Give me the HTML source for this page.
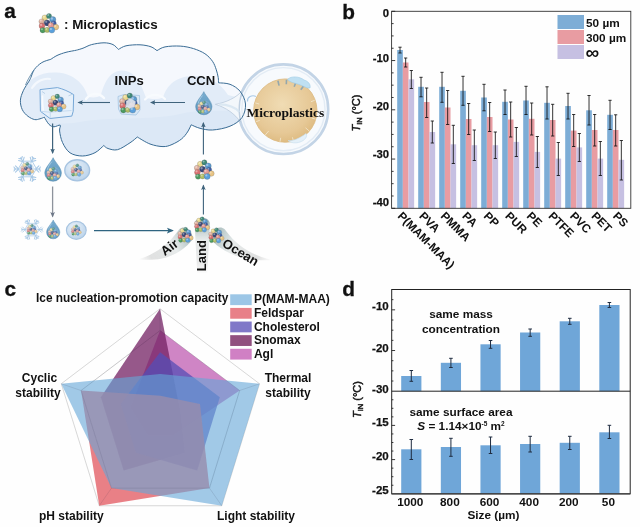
<!DOCTYPE html>
<html><head><meta charset="utf-8"><title>Figure</title>
<style>html,body{margin:0;padding:0;background:#fff;}svg{display:block;filter:blur(0.35px)}text{font-family:"Liberation Sans",sans-serif;font-weight:bold;fill:#111}.serif{font-family:"Liberation Serif",serif}</style></head><body>
<svg width="640" height="527" viewBox="0 0 640 527">
<rect width="640" height="527" fill="#fefefe"/>
<g opacity="0.999">
<defs>
<g id="mp"><circle cx="-4" cy="-5.9" r="2.8" fill="#ead88e" stroke="#4c4a44" stroke-opacity="0.5" stroke-width="0.4"/><circle cx="-4.84" cy="-6.88" r="1.06" fill="#fff" fill-opacity="0.4"/><circle cx="0.2" cy="-7.6" r="2.6" fill="#3f8a78" stroke="#4c4a44" stroke-opacity="0.5" stroke-width="0.4"/><circle cx="-0.58" cy="-8.51" r="0.99" fill="#fff" fill-opacity="0.4"/><circle cx="4" cy="-4" r="3.1" fill="#5a9ad0" stroke="#4c4a44" stroke-opacity="0.5" stroke-width="0.4"/><circle cx="3.07" cy="-5.08" r="1.18" fill="#fff" fill-opacity="0.4"/><circle cx="-7.3" cy="-2.1" r="2.6" fill="#e2b4a2" stroke="#4c4a44" stroke-opacity="0.5" stroke-width="0.4"/><circle cx="-8.08" cy="-3.01" r="0.99" fill="#fff" fill-opacity="0.4"/><circle cx="4.9" cy="-0.2" r="2.6" fill="#3f5ea6" stroke="#4c4a44" stroke-opacity="0.5" stroke-width="0.4"/><circle cx="4.12" cy="-1.11" r="0.99" fill="#fff" fill-opacity="0.4"/><circle cx="-1.7" cy="-0.7" r="3.0" fill="#3a4878" stroke="#4c4a44" stroke-opacity="0.5" stroke-width="0.4"/><circle cx="-2.60" cy="-1.75" r="1.14" fill="#fff" fill-opacity="0.4"/><circle cx="-6.8" cy="2.3" r="2.9" fill="#d97272" stroke="#4c4a44" stroke-opacity="0.5" stroke-width="0.4"/><circle cx="-7.67" cy="1.28" r="1.10" fill="#fff" fill-opacity="0.4"/><circle cx="7.2" cy="3.5" r="2.8" fill="#e8c484" stroke="#4c4a44" stroke-opacity="0.5" stroke-width="0.4"/><circle cx="6.36" cy="2.52" r="1.06" fill="#fff" fill-opacity="0.4"/><circle cx="2.1" cy="1.8" r="2.8" fill="#e39a94" stroke="#4c4a44" stroke-opacity="0.5" stroke-width="0.4"/><circle cx="1.26" cy="0.82" r="1.06" fill="#fff" fill-opacity="0.4"/><circle cx="-6.1" cy="6.6" r="2.7" fill="#4a9a60" stroke="#4c4a44" stroke-opacity="0.5" stroke-width="0.4"/><circle cx="-6.91" cy="5.65" r="1.03" fill="#fff" fill-opacity="0.4"/><circle cx="-1.7" cy="6.3" r="2.6" fill="#b0bd66" stroke="#4c4a44" stroke-opacity="0.5" stroke-width="0.4"/><circle cx="-2.48" cy="5.39" r="0.99" fill="#fff" fill-opacity="0.4"/><circle cx="3" cy="6.5" r="3.0" fill="#5aa0dc" stroke="#4c4a44" stroke-opacity="0.5" stroke-width="0.4"/><circle cx="2.10" cy="5.45" r="1.14" fill="#fff" fill-opacity="0.4"/></g>
<g id="mpp"><use href="#mp"/><circle r="10.5" fill="#dfeaf4" fill-opacity="0.18"/></g>
<linearGradient id="dropg" x1="0" y1="0" x2="0" y2="1"><stop offset="0" stop-color="#79add0"/><stop offset="1" stop-color="#5a95bc"/></linearGradient>
<g id="drop"><path d="M0 -11.8C2 -7.2 8.3 -1.8 8.3 3.6A8.3 8.2 0 0 1 -8.3 3.6C-8.3 -1.8 -2 -7.2 0 -11.8Z" fill="url(#dropg)" stroke="#4d86ad" stroke-width="0.5"/><path d="M-5.8 0.3C-5.2 -2.6 -3.2 -5.4 -1.4 -7.8" stroke="#cfe6f5" stroke-width="0.9" fill="none" stroke-opacity="0.6"/><use href="#mpp" transform="translate(0.2,4.3) scale(0.66)"/></g>
<radialGradient id="bubg" cx="0.4" cy="0.35" r="0.7"><stop offset="0" stop-color="#eaf2fa"/><stop offset="1" stop-color="#b9d2ea"/></radialGradient>
<g id="bub"><ellipse rx="12.4" ry="10.6" fill="url(#bubg)" stroke="#a7c4e1" stroke-width="1.4"/><use href="#mpp" transform="scale(0.64)"/></g>
<g id="snow" stroke="#a9c9e6" fill="none" stroke-width="1.1" stroke-linecap="round"><g transform="rotate(30)"><path d="M0 0V-13M0 -8.5l-3.2 -3.2M0 -8.5l3.2 -3.2M0 -11.5l-2 -1.8M0 -11.5l2 -1.8"/></g><g transform="rotate(90)"><path d="M0 0V-13M0 -8.5l-3.2 -3.2M0 -8.5l3.2 -3.2M0 -11.5l-2 -1.8M0 -11.5l2 -1.8"/></g><g transform="rotate(150)"><path d="M0 0V-13M0 -8.5l-3.2 -3.2M0 -8.5l3.2 -3.2M0 -11.5l-2 -1.8M0 -11.5l2 -1.8"/></g><g transform="rotate(210)"><path d="M0 0V-13M0 -8.5l-3.2 -3.2M0 -8.5l3.2 -3.2M0 -11.5l-2 -1.8M0 -11.5l2 -1.8"/></g><g transform="rotate(270)"><path d="M0 0V-13M0 -8.5l-3.2 -3.2M0 -8.5l3.2 -3.2M0 -11.5l-2 -1.8M0 -11.5l2 -1.8"/></g><g transform="rotate(330)"><path d="M0 0V-13M0 -8.5l-3.2 -3.2M0 -8.5l3.2 -3.2M0 -11.5l-2 -1.8M0 -11.5l2 -1.8"/></g><path d="M9 0L4.5 7.8L-4.5 7.8L-9 0L-4.5 -7.8L4.5 -7.8Z" stroke-width="0.9"/><circle r="7" fill="#d9e8f6" stroke="none"/></g>
<g id="snowmp"><use href="#snow"/><use href="#mpp" transform="scale(0.66)"/></g>
<radialGradient id="tang" cx="0.45" cy="0.4" r="0.65"><stop offset="0" stop-color="#f0dcb4"/><stop offset="0.7" stop-color="#e6c896"/><stop offset="1" stop-color="#dcb87c"/></radialGradient>
<linearGradient id="airg" gradientUnits="userSpaceOnUse" x1="190" y1="232" x2="138" y2="260"><stop offset="0" stop-color="#93acad" stop-opacity="0.85"/><stop offset="0.35" stop-color="#e0e5e5" stop-opacity="0.75"/><stop offset="0.78" stop-color="#c2c4c4" stop-opacity="0.5"/><stop offset="1" stop-color="#c8c8c8" stop-opacity="0"/></linearGradient>
<linearGradient id="landg" gradientUnits="userSpaceOnUse" x1="202" y1="222" x2="202" y2="274"><stop offset="0" stop-color="#93acad" stop-opacity="0.85"/><stop offset="0.35" stop-color="#e0e5e5" stop-opacity="0.75"/><stop offset="0.75" stop-color="#d0d2d2" stop-opacity="0.5"/><stop offset="1" stop-color="#c8c8c8" stop-opacity="0"/></linearGradient>
<linearGradient id="oceang" gradientUnits="userSpaceOnUse" x1="213" y1="232" x2="272" y2="261"><stop offset="0" stop-color="#93acad" stop-opacity="0.85"/><stop offset="0.35" stop-color="#e0e5e5" stop-opacity="0.75"/><stop offset="0.78" stop-color="#c2c4c4" stop-opacity="0.5"/><stop offset="1" stop-color="#c8c8c8" stop-opacity="0"/></linearGradient>
<marker id="ah" viewBox="0 0 10 10" refX="8" refY="5" markerWidth="5.5" markerHeight="5.5" orient="auto-start-reverse" markerUnits="userSpaceOnUse"><path d="M0 0.8L10 5L0 9.2L2.2 5Z" fill="#3f637c"/></marker>
<marker id="ahg" viewBox="0 0 10 10" refX="8" refY="5" markerWidth="5.5" markerHeight="5.5" orient="auto-start-reverse" markerUnits="userSpaceOnUse"><path d="M0 0.8L10 5L0 9.2L2.2 5Z" fill="#6c7686"/></marker>
<marker id="ahb" viewBox="0 0 10 10" refX="8" refY="5" markerWidth="7" markerHeight="7" orient="auto-start-reverse" markerUnits="userSpaceOnUse"><path d="M0 0.8L10 5L0 9.2L2.2 5Z" fill="#2f6480"/></marker>
</defs>
<g id="panela">
<text x="4.2" y="18.4" font-size="20.8" stroke="#111" stroke-width="0.3">a</text>
<clipPath id="cloudclip"><path d="M30.9 77.4C31.5 76.1 32.6 71.9 34.4 69.4C36.2 66.9 39.1 64.3 41.8 62.6C44.5 60.9 49.3 59.8 50.8 59.3C51.8 58.7 54.5 56.7 57.0 55.5C59.5 54.3 62.8 53.2 66.0 52.3C69.2 51.4 74.7 50.6 76.4 50.2C77.5 49.9 80.5 49.1 83.0 48.2C85.5 47.3 88.1 45.5 91.6 44.6C95.1 43.7 100.4 42.8 104.0 42.8C107.6 42.8 110.6 43.5 113.0 44.6C115.4 45.7 117.5 48.6 118.4 49.4C119.7 48.8 122.4 46.6 126.0 45.8C129.6 45.0 135.8 44.6 140.0 44.8C144.2 45.0 148.2 45.8 151.0 46.8C153.8 47.8 156.0 50.0 157.0 50.6C158.3 50.0 161.1 47.6 165.0 46.9C168.9 46.1 175.4 45.8 180.2 46.1C184.9 46.4 189.4 47.3 193.5 48.6C197.6 49.9 201.7 51.6 204.9 53.7C208.1 55.8 210.6 58.6 212.5 61.3C214.4 64.0 215.4 67.1 216.3 69.8C217.2 72.5 217.8 75.2 218.2 77.4C218.6 79.6 218.4 81.9 218.5 82.8C220.4 83.0 226.4 82.9 230.0 84.3C233.6 85.7 237.4 88.0 240.0 91.2C242.6 94.5 245.2 99.6 245.5 104.0C245.8 108.4 244.6 113.8 242.0 117.5C239.4 121.2 234.9 124.2 230.0 126.2C225.1 128.3 217.5 129.7 212.5 130.0C207.5 130.3 203.6 129.2 200.0 128.3C196.4 127.4 192.7 125.4 191.2 124.8C190.6 126.0 189.1 129.6 187.5 132.0C185.9 134.4 184.1 136.9 181.5 139.0C178.9 141.1 175.1 143.2 172.0 144.5C168.9 145.8 166.7 146.7 163.0 146.6C159.3 146.5 154.3 145.6 150.0 144.0C145.7 142.4 139.4 138.2 137.3 137.0C136.1 138.0 133.3 140.7 130.0 142.8C126.7 144.9 121.2 148.8 117.5 149.7C113.8 150.6 110.3 149.2 108.0 148.5C105.7 147.8 104.5 146.0 103.8 145.5C102.3 146.7 98.5 150.9 95.0 152.7C91.5 154.4 86.7 156.0 82.5 156.0C78.3 156.0 73.3 155.1 70.0 152.8C66.7 150.6 64.2 146.1 62.5 142.5C60.8 138.9 60.0 133.9 59.6 131.0C59.2 128.1 61.1 125.9 60.2 125.2C59.3 124.5 55.9 126.9 54.0 126.8C52.1 126.7 50.6 126.0 49.0 124.4C47.4 122.8 45.1 118.4 44.3 117.2L44.3 117.2C43.6 117.5 41.6 118.4 40.0 118.8C38.4 119.2 36.7 120.0 34.7 119.6C32.7 119.2 30.1 117.9 28.0 116.3C25.9 114.7 23.6 112.4 22.3 109.7C21.0 107.0 20.2 103.4 20.4 100.2C20.6 97.0 21.9 93.9 23.3 90.7C24.7 87.5 27.7 83.4 29.0 81.2C30.3 79.0 30.6 78.0 30.9 77.4Z"/></clipPath>
<path d="M30.9 77.4C31.5 76.1 32.6 71.9 34.4 69.4C36.2 66.9 39.1 64.3 41.8 62.6C44.5 60.9 49.3 59.8 50.8 59.3C51.8 58.7 54.5 56.7 57.0 55.5C59.5 54.3 62.8 53.2 66.0 52.3C69.2 51.4 74.7 50.6 76.4 50.2C77.5 49.9 80.5 49.1 83.0 48.2C85.5 47.3 88.1 45.5 91.6 44.6C95.1 43.7 100.4 42.8 104.0 42.8C107.6 42.8 110.6 43.5 113.0 44.6C115.4 45.7 117.5 48.6 118.4 49.4C119.7 48.8 122.4 46.6 126.0 45.8C129.6 45.0 135.8 44.6 140.0 44.8C144.2 45.0 148.2 45.8 151.0 46.8C153.8 47.8 156.0 50.0 157.0 50.6C158.3 50.0 161.1 47.6 165.0 46.9C168.9 46.1 175.4 45.8 180.2 46.1C184.9 46.4 189.4 47.3 193.5 48.6C197.6 49.9 201.7 51.6 204.9 53.7C208.1 55.8 210.6 58.6 212.5 61.3C214.4 64.0 215.4 67.1 216.3 69.8C217.2 72.5 217.8 75.2 218.2 77.4C218.6 79.6 218.4 81.9 218.5 82.8C220.4 83.0 226.4 82.9 230.0 84.3C233.6 85.7 237.4 88.0 240.0 91.2C242.6 94.5 245.2 99.6 245.5 104.0C245.8 108.4 244.6 113.8 242.0 117.5C239.4 121.2 234.9 124.2 230.0 126.2C225.1 128.3 217.5 129.7 212.5 130.0C207.5 130.3 203.6 129.2 200.0 128.3C196.4 127.4 192.7 125.4 191.2 124.8C190.6 126.0 189.1 129.6 187.5 132.0C185.9 134.4 184.1 136.9 181.5 139.0C178.9 141.1 175.1 143.2 172.0 144.5C168.9 145.8 166.7 146.7 163.0 146.6C159.3 146.5 154.3 145.6 150.0 144.0C145.7 142.4 139.4 138.2 137.3 137.0C136.1 138.0 133.3 140.7 130.0 142.8C126.7 144.9 121.2 148.8 117.5 149.7C113.8 150.6 110.3 149.2 108.0 148.5C105.7 147.8 104.5 146.0 103.8 145.5C102.3 146.7 98.5 150.9 95.0 152.7C91.5 154.4 86.7 156.0 82.5 156.0C78.3 156.0 73.3 155.1 70.0 152.8C66.7 150.6 64.2 146.1 62.5 142.5C60.8 138.9 60.0 133.9 59.6 131.0C59.2 128.1 61.1 125.9 60.2 125.2C59.3 124.5 55.9 126.9 54.0 126.8C52.1 126.7 50.6 126.0 49.0 124.4C47.4 122.8 45.1 118.4 44.3 117.2L44.3 117.2C43.6 117.5 41.6 118.4 40.0 118.8C38.4 119.2 36.7 120.0 34.7 119.6C32.7 119.2 30.1 117.9 28.0 116.3C25.9 114.7 23.6 112.4 22.3 109.7C21.0 107.0 20.2 103.4 20.4 100.2C20.6 97.0 21.9 93.9 23.3 90.7C24.7 87.5 27.7 83.4 29.0 81.2C30.3 79.0 30.6 78.0 30.9 77.4Z" fill="#f5f8fd"/>
<g clip-path="url(#cloudclip)">
<path d="M15 110C18 84 36 71 57 72.5C74 73.5 84 84 88 96.5C92 98 97 98 101 95C104 84 109 71 122 70.6C136 71 141 84 146 97.5C152 99.5 158 99.5 163 97.5C166 88 173 77 192 76C211 76 221 84 228 95C236 97 244 99 252 100V165H15Z" fill="#e2ecf8"/>
<path d="M15 128C40 120 60 126 80 122C110 116 150 121 180 114C205 108 230 113 250 110V165H15Z" fill="#dce8f6"/>
<path d="M86 99C91 92.5 99 92.5 104 98" stroke="#f8fbfe" stroke-width="2.4" fill="none" stroke-linecap="round"/>
<path d="M145 99.5C151 93.5 159 93.5 165 99" stroke="#f8fbfe" stroke-width="2.2" fill="none" stroke-linecap="round"/>
<path d="M32 88C36 81 44 78 50 79" stroke="#f4f8fd" stroke-width="2" fill="none" stroke-linecap="round"/>
</g>
<use href="#mp" transform="translate(48.8,23.6) scale(1.0)"/>
<text x="64.0" y="29.4" font-size="13.4">: Microplastics</text>
<circle cx="283.4" cy="109.2" r="44.8" fill="#f7fafd" stroke="#c3d4e6" stroke-width="2.6"/>
<circle cx="283.4" cy="109.2" r="41.6" fill="none" stroke="#e3ecf5" stroke-width="1.4"/>
<path d="M215.3 104.3C226 102.5 236 98 242.5 90.5C238.5 100 238 112 240.5 122C235 114 226 107.5 215.3 104.3Z" fill="#f3f7fb" stroke="#b4c6d8" stroke-width="0.7" stroke-linejoin="round"/>
<path d="M219 104.4C228 104.6 235 107 239.5 112" fill="none" stroke="#d5e3f0" stroke-width="2.2" stroke-opacity="0.8"/>
<path d="M247.5 101.5C247 97 252 94.5 256 96.5" fill="none" stroke="#a9c9e6" stroke-width="1.1"/>
<path d="M30.9 77.4C31.5 76.1 32.6 71.9 34.4 69.4C36.2 66.9 39.1 64.3 41.8 62.6C44.5 60.9 49.3 59.8 50.8 59.3C51.8 58.7 54.5 56.7 57.0 55.5C59.5 54.3 62.8 53.2 66.0 52.3C69.2 51.4 74.7 50.6 76.4 50.2C77.5 49.9 80.5 49.1 83.0 48.2C85.5 47.3 88.1 45.5 91.6 44.6C95.1 43.7 100.4 42.8 104.0 42.8C107.6 42.8 110.6 43.5 113.0 44.6C115.4 45.7 117.5 48.6 118.4 49.4C119.7 48.8 122.4 46.6 126.0 45.8C129.6 45.0 135.8 44.6 140.0 44.8C144.2 45.0 148.2 45.8 151.0 46.8C153.8 47.8 156.0 50.0 157.0 50.6C158.3 50.0 161.1 47.6 165.0 46.9C168.9 46.1 175.4 45.8 180.2 46.1C184.9 46.4 189.4 47.3 193.5 48.6C197.6 49.9 201.7 51.6 204.9 53.7C208.1 55.8 210.6 58.6 212.5 61.3C214.4 64.0 215.4 67.1 216.3 69.8C217.2 72.5 217.8 75.2 218.2 77.4C218.6 79.6 218.4 81.9 218.5 82.8C220.4 83.0 226.4 82.9 230.0 84.3C233.6 85.7 237.4 88.0 240.0 91.2C242.6 94.5 245.2 99.6 245.5 104.0C245.8 108.4 244.6 113.8 242.0 117.5C239.4 121.2 234.9 124.2 230.0 126.2C225.1 128.3 217.5 129.7 212.5 130.0C207.5 130.3 203.6 129.2 200.0 128.3C196.4 127.4 192.7 125.4 191.2 124.8C190.6 126.0 189.1 129.6 187.5 132.0C185.9 134.4 184.1 136.9 181.5 139.0C178.9 141.1 175.1 143.2 172.0 144.5C168.9 145.8 166.7 146.7 163.0 146.6C159.3 146.5 154.3 145.6 150.0 144.0C145.7 142.4 139.4 138.2 137.3 137.0C136.1 138.0 133.3 140.7 130.0 142.8C126.7 144.9 121.2 148.8 117.5 149.7C113.8 150.6 110.3 149.2 108.0 148.5C105.7 147.8 104.5 146.0 103.8 145.5C102.3 146.7 98.5 150.9 95.0 152.7C91.5 154.4 86.7 156.0 82.5 156.0C78.3 156.0 73.3 155.1 70.0 152.8C66.7 150.6 64.2 146.1 62.5 142.5C60.8 138.9 60.0 133.9 59.6 131.0C59.2 128.1 61.1 125.9 60.2 125.2C59.3 124.5 55.9 126.9 54.0 126.8C52.1 126.7 50.6 126.0 49.0 124.4C47.4 122.8 45.1 118.4 44.3 117.2M30.9 77.4C30.6 78.0 30.3 79.0 29.0 81.2C27.7 83.4 24.7 87.5 23.3 90.7C21.9 93.9 20.6 97.0 20.4 100.2C20.2 103.4 21.0 107.0 22.3 109.7C23.6 112.4 25.9 114.7 28.0 116.3C30.1 117.9 32.7 119.2 34.7 119.6C36.7 120.0 38.4 119.2 40.0 118.8C41.6 118.4 43.6 117.5 44.3 117.2" fill="none" stroke="#3a6c94" stroke-width="1.0" stroke-linejoin="round"/>
<path d="M33.5 70.5C30 76 27.5 80 25.5 85" fill="none" stroke="#3b6d94" stroke-width="0.7"/>
<circle cx="285.3" cy="110.6" r="31.7" fill="url(#tang)" stroke="#dcb97f" stroke-width="0.8"/>
<path d="M277.9 80.7L279.1 85.6" stroke="#93a7ad" stroke-width="1.6"/>
<path d="M286.5 79.8L286.3 84.3" stroke="#93a7ad" stroke-width="1.6"/>
<path d="M296.1 81.7L294.2 86.8" stroke="#93a7ad" stroke-width="1.6"/>
<path d="M303.7 85.8L300.8 89.8" stroke="#93a7ad" stroke-width="1.6"/>
<path d="M314.7 100.3L311.0 101.7" stroke="#f3e8d2" stroke-width="0.8"/>
<path d="M315.5 119.1L311.7 118.0" stroke="#f3e8d2" stroke-width="0.8"/>
<path d="M309.3 131.1L305.5 127.8" stroke="#f3e8d2" stroke-width="0.8"/>
<path d="M293.5 141.1L292.4 137.3" stroke="#f3e8d2" stroke-width="0.8"/>
<path d="M280.0 141.7L280.7 137.8" stroke="#f3e8d2" stroke-width="0.8"/>
<path d="M265.3 134.9L268.6 131.1" stroke="#f3e8d2" stroke-width="0.8"/>
<path d="M256.1 121.7L259.8 120.3" stroke="#f3e8d2" stroke-width="0.8"/>
<path d="M255.3 102.9L259.1 104.0" stroke="#f3e8d2" stroke-width="0.8"/>
<path d="M287.5 79.5C291 75.5 300 76.5 304 80C308 81 311 84.5 310 88C306 88.5 303 85.5 299 84.5C295 83 290 82.5 287.5 79.5Z" fill="#bfe0f2" stroke="#9ccbe6" stroke-width="0.6"/>
<path d="M288 140.5C293 141.5 300 138 306 133.5C308 136 305 140.5 300 142C296 143.5 291 143 288 140.5Z" fill="#e4f0f8" stroke="#c5dcec" stroke-width="0.6"/>
<text class="serif" x="246.6" y="117" font-size="13.5">Microplastics</text>
<text x="114.6" y="85.2" font-size="13.1">INPs</text>
<text x="186.9" y="85.2" font-size="13.1">CCN</text>
<g id="cube">
<path d="M40 89.6L57.5 87.6C63 89 69 91.5 73.7 94.7L73.2 111.3L71.8 116.1L50 118.5L40.4 111.3Z" fill="#e6f0fa" stroke="#6a9fd2" stroke-width="0.9" stroke-linejoin="round"/>
<path d="M50.3 112.2V118.3M40.4 111.3L50.3 112.2L71.5 110.5" fill="none" stroke="#b9d3ec" stroke-width="0.7"/>
<path d="M42 91.5L45 93.6M68.5 95.8L72 94.4" fill="none" stroke="#a9c7e3" stroke-width="0.7"/>
<path d="M42.5 96C42.3 101 42.6 106 43.2 110" fill="none" stroke="#f8fbfe" stroke-width="1.6" stroke-linecap="round"/>
<use href="#mp" transform="translate(57.1,103.3) scale(0.9)"/>
</g>
<path d="M118 96.5L124 94.5L139.5 95.5L140 110L136 115L121 114L118.5 109Z" fill="#d9e8f6" stroke="#9dc0e0" stroke-width="0.7"/>
<use href="#mp" transform="translate(129.6,103.4) scale(1.02)"/>
<path d="M126.5 101L131 98.5L135.5 101.5L134.5 107L129 108.5L126 105.5Z" fill="#dfe6ee" fill-opacity="0.9" stroke="#c8d2dd" stroke-width="0.4"/>
<use href="#drop" transform="translate(203.8,103.2) scale(0.98)"/>
<path d="M185 102.5H151" stroke="#3f637c" stroke-width="1.1" marker-end="url(#ah)"/>
<path d="M110 102.5H78.5" stroke="#3f637c" stroke-width="1.1" marker-end="url(#ah)"/>
<path d="M52.6 123.5V153" stroke="#3f637c" stroke-width="1.2" marker-end="url(#ah)"/>
<path d="M52.6 186.5V216.5" stroke="#8d939c" stroke-width="1.3" marker-end="url(#ahg)"/>
<path d="M203.4 154.5V123" stroke="#3f637c" stroke-width="1.1" marker-end="url(#ah)"/>
<path d="M203.4 214.5V185.5" stroke="#3f637c" stroke-width="1.1" marker-end="url(#ah)"/>
<path d="M94 230.6H172.5" stroke="#2f6480" stroke-width="1.3" marker-end="url(#ahb)"/>
<use href="#snowmp" transform="translate(27.2,169)"/>
<use href="#drop" transform="translate(53.1,169.5)"/>
<use href="#bub" transform="translate(77.2,170.3)"/>
<use href="#snowmp" transform="translate(32,229.6) scale(0.8)"/>
<use href="#drop" transform="translate(53.2,229.4) scale(0.8)"/>
<use href="#bub" transform="translate(76.3,230.3) scale(0.8,0.85)"/>
<use href="#mp" transform="translate(204.2,170)"/>
<path d="M179.5 229C184 224.5 193.5 230 192.5 239.5C187 247 176 255.5 162 258.5C153 260.2 145 260 138 259.5C148 256.5 160 250.5 168.5 242C173 237.5 176.5 233 179.5 229Z" fill="url(#airg)"/>
<path d="M194.8 223C196 216 208.5 216 209.8 223C209.3 240 208 258 207.3 273H197.3C196.6 258 195.3 240 194.8 223Z" fill="url(#landg)"/>
<path d="M211 239.5C210 230 219.5 224.5 224.5 229C227.5 233 231 237.5 236 242C245 250.5 258 256.5 271.5 260C264 260.6 255 260.5 246 258.8C231 255.5 217 247 211 239.5Z" fill="url(#oceang)"/>
<use href="#mp" transform="translate(185.5,235.2) scale(0.78)"/>
<use href="#mp" transform="translate(202,224.8) scale(0.78)"/>
<use href="#mp" transform="translate(216.3,235.6) scale(0.78)"/>
<text transform="translate(169.6,247.6) rotate(-37)" font-size="13" text-anchor="middle" dy="4">Air</text>
<text transform="translate(205.8,255.6) rotate(-90)" font-size="13" text-anchor="middle">Land</text>
<text transform="translate(240.4,252.6) rotate(31)" font-size="13" text-anchor="middle" dy="4">Ocean</text>
</g>
<g id="panelb">
<text x="342.3" y="18.6" font-size="20.8" stroke="#111" stroke-width="0.3">b</text>
<rect x="397.20" y="50.00" width="5.65" height="158.30" fill="#7dadd6"/>
<rect x="402.85" y="62.50" width="5.65" height="145.80" fill="#e89ca2"/>
<rect x="408.50" y="79.30" width="5.65" height="129.00" fill="#c6c0e2"/>
<rect x="418.20" y="86.80" width="5.65" height="121.50" fill="#7dadd6"/>
<rect x="423.85" y="102.00" width="5.65" height="106.30" fill="#e89ca2"/>
<rect x="429.50" y="132.00" width="5.65" height="76.30" fill="#c6c0e2"/>
<rect x="439.20" y="86.80" width="5.65" height="121.50" fill="#7dadd6"/>
<rect x="444.85" y="107.50" width="5.65" height="100.80" fill="#e89ca2"/>
<rect x="450.50" y="144.30" width="5.65" height="64.00" fill="#c6c0e2"/>
<rect x="460.20" y="90.80" width="5.65" height="117.50" fill="#7dadd6"/>
<rect x="465.85" y="119.00" width="5.65" height="89.30" fill="#e89ca2"/>
<rect x="471.50" y="145.20" width="5.65" height="63.10" fill="#c6c0e2"/>
<rect x="481.20" y="97.50" width="5.65" height="110.80" fill="#7dadd6"/>
<rect x="486.85" y="117.00" width="5.65" height="91.30" fill="#e89ca2"/>
<rect x="492.50" y="145.20" width="5.65" height="63.10" fill="#c6c0e2"/>
<rect x="502.20" y="101.80" width="5.65" height="106.50" fill="#7dadd6"/>
<rect x="507.85" y="119.50" width="5.65" height="88.80" fill="#e89ca2"/>
<rect x="513.50" y="141.90" width="5.65" height="66.40" fill="#c6c0e2"/>
<rect x="523.20" y="100.50" width="5.65" height="107.80" fill="#7dadd6"/>
<rect x="528.85" y="118.80" width="5.65" height="89.50" fill="#e89ca2"/>
<rect x="534.50" y="151.90" width="5.65" height="56.40" fill="#c6c0e2"/>
<rect x="544.20" y="102.80" width="5.65" height="105.50" fill="#7dadd6"/>
<rect x="549.85" y="120.00" width="5.65" height="88.30" fill="#e89ca2"/>
<rect x="555.50" y="158.60" width="5.65" height="49.70" fill="#c6c0e2"/>
<rect x="565.20" y="106.00" width="5.65" height="102.30" fill="#7dadd6"/>
<rect x="570.85" y="130.60" width="5.65" height="77.70" fill="#e89ca2"/>
<rect x="576.50" y="147.40" width="5.65" height="60.90" fill="#c6c0e2"/>
<rect x="586.20" y="110.30" width="5.65" height="98.00" fill="#7dadd6"/>
<rect x="591.85" y="130.00" width="5.65" height="78.30" fill="#e89ca2"/>
<rect x="597.50" y="158.60" width="5.65" height="49.70" fill="#c6c0e2"/>
<rect x="607.20" y="114.80" width="5.65" height="93.50" fill="#7dadd6"/>
<rect x="612.85" y="130.00" width="5.65" height="78.30" fill="#e89ca2"/>
<rect x="618.50" y="159.80" width="5.65" height="48.50" fill="#c6c0e2"/>
<path d="M400.02 47.20V53.00M398.42 47.20h3.2M398.42 53.00h3.2" stroke="#111" stroke-width="0.85" fill="none"/>
<path d="M405.67 58.00V67.00M404.07 58.00h3.2M404.07 67.00h3.2" stroke="#111" stroke-width="0.85" fill="none"/>
<path d="M411.32 70.50V88.50M409.72 70.50h3.2M409.72 88.50h3.2" stroke="#111" stroke-width="0.85" fill="none"/>
<path d="M421.02 77.30V96.80M419.42 77.30h3.2M419.42 96.80h3.2" stroke="#111" stroke-width="0.85" fill="none"/>
<path d="M426.67 88.00V117.50M425.07 88.00h3.2M425.07 117.50h3.2" stroke="#111" stroke-width="0.85" fill="none"/>
<path d="M432.32 121.00V143.00M430.72 121.00h3.2M430.72 143.00h3.2" stroke="#111" stroke-width="0.85" fill="none"/>
<path d="M442.02 72.30V102.30M440.42 72.30h3.2M440.42 102.30h3.2" stroke="#111" stroke-width="0.85" fill="none"/>
<path d="M447.67 90.50V124.50M446.07 90.50h3.2M446.07 124.50h3.2" stroke="#111" stroke-width="0.85" fill="none"/>
<path d="M453.32 125.30V163.50M451.72 125.30h3.2M451.72 163.50h3.2" stroke="#111" stroke-width="0.85" fill="none"/>
<path d="M463.02 76.30V105.30M461.42 76.30h3.2M461.42 105.30h3.2" stroke="#111" stroke-width="0.85" fill="none"/>
<path d="M468.67 103.50V134.50M467.07 103.50h3.2M467.07 134.50h3.2" stroke="#111" stroke-width="0.85" fill="none"/>
<path d="M474.32 130.00V160.50M472.72 130.00h3.2M472.72 160.50h3.2" stroke="#111" stroke-width="0.85" fill="none"/>
<path d="M484.02 84.30V110.80M482.42 84.30h3.2M482.42 110.80h3.2" stroke="#111" stroke-width="0.85" fill="none"/>
<path d="M489.67 102.50V131.50M488.07 102.50h3.2M488.07 131.50h3.2" stroke="#111" stroke-width="0.85" fill="none"/>
<path d="M495.32 132.00V158.50M493.72 132.00h3.2M493.72 158.50h3.2" stroke="#111" stroke-width="0.85" fill="none"/>
<path d="M505.02 90.00V114.50M503.42 90.00h3.2M503.42 114.50h3.2" stroke="#111" stroke-width="0.85" fill="none"/>
<path d="M510.67 102.00V137.00M509.07 102.00h3.2M509.07 137.00h3.2" stroke="#111" stroke-width="0.85" fill="none"/>
<path d="M516.33 127.50V156.50M514.73 127.50h3.2M514.73 156.50h3.2" stroke="#111" stroke-width="0.85" fill="none"/>
<path d="M526.03 86.30V114.50M524.43 86.30h3.2M524.43 114.50h3.2" stroke="#111" stroke-width="0.85" fill="none"/>
<path d="M531.68 103.00V135.00M530.08 103.00h3.2M530.08 135.00h3.2" stroke="#111" stroke-width="0.85" fill="none"/>
<path d="M537.33 136.50V167.50M535.73 136.50h3.2M535.73 167.50h3.2" stroke="#111" stroke-width="0.85" fill="none"/>
<path d="M547.03 86.80V119.00M545.43 86.80h3.2M545.43 119.00h3.2" stroke="#111" stroke-width="0.85" fill="none"/>
<path d="M552.68 104.30V136.00M551.08 104.30h3.2M551.08 136.00h3.2" stroke="#111" stroke-width="0.85" fill="none"/>
<path d="M558.33 142.50V175.50M556.73 142.50h3.2M556.73 175.50h3.2" stroke="#111" stroke-width="0.85" fill="none"/>
<path d="M568.03 93.30V119.00M566.43 93.30h3.2M566.43 119.00h3.2" stroke="#111" stroke-width="0.85" fill="none"/>
<path d="M573.68 114.50V146.50M572.08 114.50h3.2M572.08 146.50h3.2" stroke="#111" stroke-width="0.85" fill="none"/>
<path d="M579.33 133.50V161.50M577.73 133.50h3.2M577.73 161.50h3.2" stroke="#111" stroke-width="0.85" fill="none"/>
<path d="M589.03 95.50V125.00M587.43 95.50h3.2M587.43 125.00h3.2" stroke="#111" stroke-width="0.85" fill="none"/>
<path d="M594.68 114.50V146.00M593.08 114.50h3.2M593.08 146.00h3.2" stroke="#111" stroke-width="0.85" fill="none"/>
<path d="M600.33 141.50V175.50M598.73 141.50h3.2M598.73 175.50h3.2" stroke="#111" stroke-width="0.85" fill="none"/>
<path d="M610.03 100.30V129.50M608.43 100.30h3.2M608.43 129.50h3.2" stroke="#111" stroke-width="0.85" fill="none"/>
<path d="M615.68 114.80V146.00M614.08 114.80h3.2M614.08 146.00h3.2" stroke="#111" stroke-width="0.85" fill="none"/>
<path d="M621.33 140.50V180.00M619.73 140.50h3.2M619.73 180.00h3.2" stroke="#111" stroke-width="0.85" fill="none"/>
<rect x="391.6" y="11.3" width="239.20" height="197.00" fill="none" stroke="#333" stroke-width="0.9"/>
<path d="M391.6 11.30h3.6M391.6 23.61h2.0M391.6 35.92h2.0M391.6 48.24h2.0M391.6 60.55h3.6M391.6 72.86h2.0M391.6 85.17h2.0M391.6 97.49h2.0M391.6 109.80h3.6M391.6 122.11h2.0M391.6 134.43h2.0M391.6 146.74h2.0M391.6 159.05h3.6M391.6 171.36h2.0M391.6 183.68h2.0M391.6 195.99h2.0M391.6 208.30h3.6" stroke="#222" stroke-width="0.9" fill="none"/>
<text x="389.0" y="17.20" font-size="11.3" text-anchor="end" stroke="#111" stroke-width="0.25">0</text>
<text x="389.0" y="61.90" font-size="11.3" text-anchor="end" stroke="#111" stroke-width="0.25">-10</text>
<text x="389.0" y="110.40" font-size="11.3" text-anchor="end" stroke="#111" stroke-width="0.25">-20</text>
<text x="389.0" y="158.30" font-size="11.3" text-anchor="end" stroke="#111" stroke-width="0.25">-30</text>
<text x="389.0" y="206.00" font-size="11.3" text-anchor="end" stroke="#111" stroke-width="0.25">-40</text>
<text transform="translate(360.4,113) rotate(-90)" font-size="11" text-anchor="middle" style="font-weight:normal;stroke:#111;stroke-width:0.45"><tspan font-style="italic">T</tspan><tspan font-size="7.5" dy="2">IN</tspan><tspan dy="-2"> (°C)</tspan></text>
<text transform="translate(397.00,216.80) rotate(45)" font-size="11.8">P(MAM-MAA)</text>
<text transform="translate(418.52,216.80) rotate(45)" font-size="11.8">PVA</text>
<text transform="translate(440.04,216.80) rotate(45)" font-size="11.8">PMMA</text>
<text transform="translate(461.56,216.80) rotate(45)" font-size="11.8">PA</text>
<text transform="translate(483.08,216.80) rotate(45)" font-size="11.8">PP</text>
<text transform="translate(504.60,216.80) rotate(45)" font-size="11.8">PUR</text>
<text transform="translate(526.12,216.80) rotate(45)" font-size="11.8">PE</text>
<text transform="translate(547.64,216.80) rotate(45)" font-size="11.8">PTFE</text>
<text transform="translate(569.16,216.80) rotate(45)" font-size="11.8">PVC</text>
<text transform="translate(590.68,216.80) rotate(45)" font-size="11.8">PET</text>
<text transform="translate(612.20,216.80) rotate(45)" font-size="11.8">PS</text>
<rect x="557.5" y="15.0" width="26.5" height="14" fill="#7dadd6"/>
<text x="586" y="27.0" font-size="11.8">50 µm</text>
<rect x="557.5" y="30.0" width="26.5" height="14" fill="#e89ca2"/>
<text x="586" y="42.0" font-size="11.8">300 µm</text>
<rect x="557.5" y="45.0" width="26.5" height="14" fill="#c6c0e2"/>
<text x="585.5" y="58.6" font-size="19">∞</text>
</g>
<g id="panelc">
<text x="4.5" y="296.3" font-size="20.8" stroke="#111" stroke-width="0.3">c</text>
<polygon points="160.00,308.75 259.50,383.75 221.75,505.75 99.25,505.75 61.25,383.75" fill="none" stroke="#bdbdbd" stroke-width="0.6"/>
<polygon points="160.06,330.52 239.66,390.52 209.46,488.12 111.46,488.12 81.06,390.52" fill="none" stroke="#b0b0b0" stroke-width="0.5"/>
<polygon points="160.06,330.52 239.66,390.52 172.59,435.23 148.09,435.23 130.59,407.44" fill="#bf5cb2" fill-opacity="0.75"/>
<polygon points="160.00,308.75 180.14,410.83 184.88,452.86 123.67,470.49 100.87,397.29" fill="#732063" fill-opacity="0.75"/>
<polygon points="160.12,352.29 219.82,397.29 197.17,470.49 135.88,452.86 120.68,404.06" fill="#564eb6" fill-opacity="0.75"/>
<polygon points="160.24,395.83 199.98,404.06 209.46,488.12 99.25,505.75 81.06,390.52" fill="#e4646b" fill-opacity="0.82"/>
<polygon points="160.18,374.06 259.50,383.75 221.75,505.75 111.46,488.12 61.25,383.75" fill="#66a6d8" fill-opacity="0.61"/>
<polygon points="160.06,330.52 239.66,390.52 209.46,488.12 111.46,488.12 81.06,390.52" fill="none" stroke="#334" stroke-opacity="0.22" stroke-width="0.4"/>
<path d="M160.06 330.52L160.00 308.75M239.66 390.52L259.50 383.75M209.46 488.12L221.75 505.75M111.46 488.12L99.25 505.75M81.06 390.52L61.25 383.75" stroke="#334" stroke-opacity="0.32" stroke-width="0.4" fill="none"/>
<text x="36" y="301.6" font-size="11.86">Ice nucleation-promotion capacity</text>
<text x="39.5" y="382.2" font-size="12" text-anchor="middle">Cyclic</text>
<text x="38" y="396.6" font-size="12" text-anchor="middle">stability</text>
<text x="288" y="382.2" font-size="12" text-anchor="middle">Thermal</text>
<text x="288" y="396.6" font-size="12" text-anchor="middle">stability</text>
<text x="39" y="519.8" font-size="12">pH stability</text>
<text x="217" y="519.8" font-size="12">Light stability</text>
<rect x="230.2" y="294.30" width="21.5" height="10.8" fill="#9cc6e6"/>
<text x="253.9" y="303.30" font-size="12">P(MAM-MAA)</text>
<rect x="230.2" y="307.92" width="21.5" height="10.8" fill="#e88088"/>
<text x="253.9" y="316.92" font-size="12">Feldspar</text>
<rect x="230.2" y="321.54" width="21.5" height="10.8" fill="#8078c8"/>
<text x="253.9" y="330.54" font-size="12">Cholesterol</text>
<rect x="230.2" y="335.16" width="21.5" height="10.8" fill="#91507f"/>
<text x="253.9" y="344.16" font-size="12">Snomax</text>
<rect x="230.2" y="348.78" width="21.5" height="10.8" fill="#d080c4"/>
<text x="253.9" y="357.78" font-size="12">Agl</text>
</g>
<g id="paneld">
<text x="342.3" y="296.4" font-size="20.8" stroke="#111" stroke-width="0.3">d</text>
<rect x="401.20" y="376.0" width="20.2" height="15.20" fill="#6fa6d8"/>
<path d="M411.30 370.5V381.3M409.50 370.5h3.6M409.50 381.3h3.6" stroke="#1f2c40" stroke-width="1" fill="none"/>
<rect x="440.82" y="362.8" width="20.2" height="28.40" fill="#6fa6d8"/>
<path d="M450.92 358.3V367.5M449.12 358.3h3.6M449.12 367.5h3.6" stroke="#1f2c40" stroke-width="1" fill="none"/>
<rect x="480.44" y="344.3" width="20.2" height="46.90" fill="#6fa6d8"/>
<path d="M490.54 340.5V348.3M488.74 340.5h3.6M488.74 348.3h3.6" stroke="#1f2c40" stroke-width="1" fill="none"/>
<rect x="520.06" y="332.5" width="20.2" height="58.70" fill="#6fa6d8"/>
<path d="M530.16 329.0V336.3M528.36 329.0h3.6M528.36 336.3h3.6" stroke="#1f2c40" stroke-width="1" fill="none"/>
<rect x="559.68" y="321.3" width="20.2" height="69.90" fill="#6fa6d8"/>
<path d="M569.78 318.3V324.3M567.98 318.3h3.6M567.98 324.3h3.6" stroke="#1f2c40" stroke-width="1" fill="none"/>
<rect x="599.30" y="305.0" width="20.2" height="86.20" fill="#6fa6d8"/>
<path d="M609.40 302.5V307.5M607.60 302.5h3.6M607.60 307.5h3.6" stroke="#1f2c40" stroke-width="1" fill="none"/>
<rect x="401.20" y="449.3" width="20.2" height="44.50" fill="#6fa6d8"/>
<path d="M411.30 439.5V459.5M409.50 439.5h3.6M409.50 459.5h3.6" stroke="#1f2c40" stroke-width="1" fill="none"/>
<rect x="440.82" y="447.0" width="20.2" height="46.80" fill="#6fa6d8"/>
<path d="M450.92 438.3V456.3M449.12 438.3h3.6M449.12 456.3h3.6" stroke="#1f2c40" stroke-width="1" fill="none"/>
<rect x="480.44" y="445.3" width="20.2" height="48.50" fill="#6fa6d8"/>
<path d="M490.54 437.0V453.5M488.74 437.0h3.6M488.74 453.5h3.6" stroke="#1f2c40" stroke-width="1" fill="none"/>
<rect x="520.06" y="444.0" width="20.2" height="49.80" fill="#6fa6d8"/>
<path d="M530.16 436.3V452.0M528.36 436.3h3.6M528.36 452.0h3.6" stroke="#1f2c40" stroke-width="1" fill="none"/>
<rect x="559.68" y="442.8" width="20.2" height="51.00" fill="#6fa6d8"/>
<path d="M569.78 436.3V449.5M567.98 436.3h3.6M567.98 449.5h3.6" stroke="#1f2c40" stroke-width="1" fill="none"/>
<rect x="599.30" y="432.3" width="20.2" height="61.50" fill="#6fa6d8"/>
<path d="M609.40 425.3V438.5M607.60 425.3h3.6M607.60 438.5h3.6" stroke="#1f2c40" stroke-width="1" fill="none"/>
<rect x="391.7" y="289.5" width="238.50" height="204.30" fill="none" stroke="#222" stroke-width="1"/>
<path d="M391.7 391.2H630.2" stroke="#222" stroke-width="1"/>
<path d="M391.7 493.8H630.2" stroke="#444" stroke-width="1.3"/>
<path d="M391.7 299.67h1.7M391.7 309.84h3.4M391.7 320.01h1.7M391.7 330.18h1.7M391.7 340.35h1.7M391.7 350.52h3.4M391.7 360.69h1.7M391.7 370.86h1.7M391.7 381.03h1.7M391.7 399.75h1.7M391.7 408.30h1.7M391.7 416.85h1.7M391.7 425.40h3.4M391.7 433.95h1.7M391.7 442.50h1.7M391.7 451.05h1.7M391.7 459.60h3.4M391.7 468.15h1.7M391.7 476.70h1.7M391.7 485.25h1.7" stroke="#222" stroke-width="0.9" fill="none"/>
<text x="388.7" y="310.30" font-size="11.5" text-anchor="end" stroke="#111" stroke-width="0.25">-10</text>
<text x="388.7" y="351.60" font-size="11.5" text-anchor="end" stroke="#111" stroke-width="0.25">-20</text>
<text x="388.7" y="392.60" font-size="11.5" text-anchor="end" stroke="#111" stroke-width="0.25">-30</text>
<text x="388.7" y="425.60" font-size="11.5" text-anchor="end" stroke="#111" stroke-width="0.25">-15</text>
<text x="388.7" y="460.30" font-size="11.5" text-anchor="end" stroke="#111" stroke-width="0.25">-20</text>
<text x="388.7" y="493.90" font-size="11.5" text-anchor="end" stroke="#111" stroke-width="0.25">-25</text>
<text transform="translate(360.8,399.5) rotate(-90)" font-size="11" text-anchor="middle" style="font-weight:normal;stroke:#111;stroke-width:0.45"><tspan font-style="italic">T</tspan><tspan font-size="7.5" dy="2">IN</tspan><tspan dy="-2"> (°C)</tspan></text>
<text x="410.30" y="506.2" font-size="11.8" text-anchor="middle">1000</text>
<text x="449.92" y="506.2" font-size="11.8" text-anchor="middle">800</text>
<text x="489.54" y="506.2" font-size="11.8" text-anchor="middle">600</text>
<text x="529.16" y="506.2" font-size="11.8" text-anchor="middle">400</text>
<text x="568.78" y="506.2" font-size="11.8" text-anchor="middle">200</text>
<text x="608.40" y="506.2" font-size="11.8" text-anchor="middle">50</text>
<text x="493.4" y="518.8" font-size="11.8" text-anchor="middle">Size (µm)</text>
<text x="461" y="318.2" font-size="11.8" text-anchor="middle">same mass</text>
<text x="461" y="332.8" font-size="11.8" text-anchor="middle">concentration</text>
<text x="461" y="415.8" font-size="11.8" text-anchor="middle">same surface area</text>
<text x="461" y="430.4" font-size="11.8" text-anchor="middle"><tspan font-style="italic">S</tspan> = 1.14×10<tspan font-size="6.5" dy="-4">-5</tspan><tspan dy="4"> m</tspan><tspan font-size="6.5" dy="-4">2</tspan></text>
</g>
</g></svg></body></html>
